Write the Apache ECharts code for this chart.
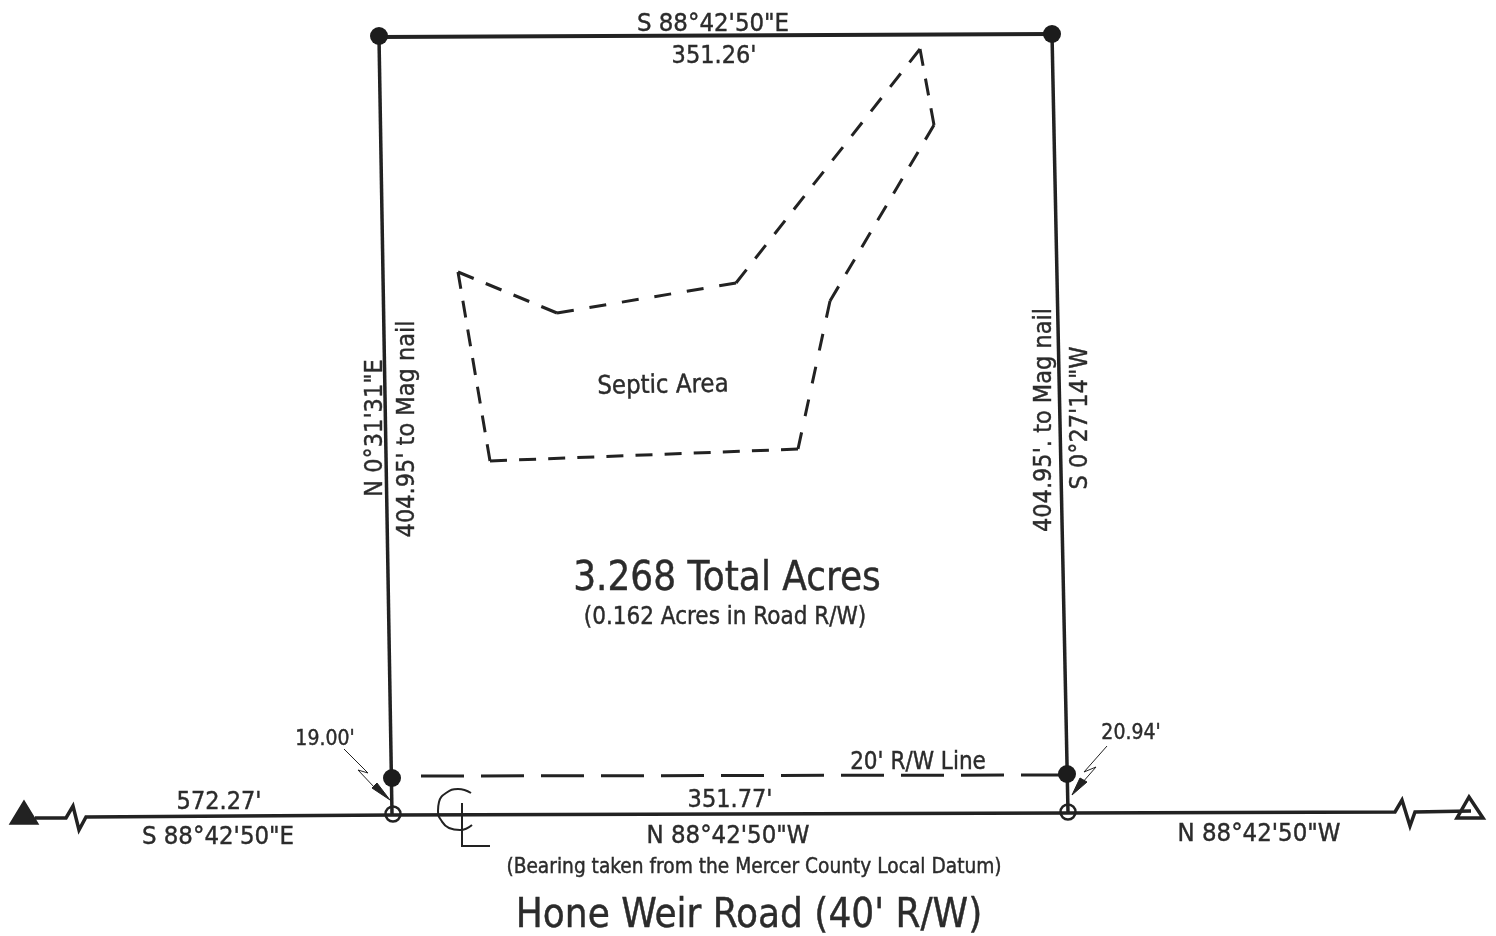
<!DOCTYPE html>
<html><head><meta charset="utf-8">
<style>html,body{margin:0;padding:0;background:#fff}#c{width:1496px;height:936px}</style>
<script src="https://cdn.jsdelivr.net/npm/echarts@6/dist/echarts.min.js"></script>
</head><body><div id="c"></div>
<script>
// Survey values, in sheet units
const boundaryTop = [[379,37],[1052,34]];
const boundaryLeft = [[379,37],[392,814]];
const boundaryRight = [[1052,34],[1068,812]];
const roadCenter = [[35,818],[66,818],[73,806],[79,830],[86,817],[393,815],[1068,813],[1395,812],[1402,800],[1410,826],[1415,812],[1471,811]];
const rightOfWay = [[421,776],[1062,775]];
const septicArea = [[458,272],[557,313],[736,283],[920,49],[934,125],[830,301],[798,449],[490,461],[458,272]];
const centerArc = [[471,793],[458,789],[446,793],[439,802],[438,811],[441,820],[449,828],[460,830],[472,825]];
const centerEll = [[462,803],[462,846],[490,846]];
const leaderLeft = [[344,749],[368,773],[358,770],[375,788]];
const leaderRight = [[1107,746],[1084,772],[1096,767],[1082,783]];
const arrowLeft = [[377,783],[372,788],[390,800]];
const arrowRight = [[1080,778],[1087,782],[1072,795]];
const triangleStart = [[24,801],[10,824],[38,824]];
const triangleEnd = [[1469,797],[1483,818],[1457,818]];
const pinsFound = [[379,36],[1052,34],[392,778],[1067,774]];
const pinsSet = [[393,814],[1068,812]];
const labelTexts = ["S 88°42'50\"E","351.26'","N 0°31'31\"E","404.95' to Mag nail","404.95'. to Mag nail","S 0°27'14\"W","Septic Area","3.268 Total Acres","(0.162 Acres in Road R/W)","19.00'","20.94'","20' R/W Line","572.27'","S 88°42'50\"E","351.77'","N 88°42'50\"W","N 88°42'50\"W","(Bearing taken from the Mercer County Local Datum)","Hone Weir Road (40' R/W)"];
const labelAnchors = [[713,24],[714,56],[375,428],[407,429],[1044,420],[1080,418],[663,386],[727,580],[725,618],[325,740],[1131,734],[918,763],[219,802],[218,837],[730,800],[728,836],[1259,834],[754,868],[749,917]];
const labelSizes = [25.5,25,25,25,25,25,25.5,40,24,21,21,24,25,25.5,25,25.5,25.5,20.7,40];
const labelTilts = [0,0,90,90,90,90,1,0,0,0,0,0,0,0,0,0,0,0,0];

const ink = '#222';
function line(points, width, dash, smooth){
  return {type:'line',data:points,showSymbol:false,silent:true,clip:false,smooth:!!smooth,
    lineStyle:{color:ink,width:width,type:dash||'solid',cap:'butt',join:'miter'},z:2};
}
// Each septic edge gets a dash pattern that begins and ends on a dash, so corners close as drawn
function septicEdges(points){
  const out=[];
  for(let i=0;i<points.length-1;i++){
    const a=points[i],b=points[i+1],len=Math.hypot(b[0]-a[0],b[1]-a[1]);
    const n=Math.max(1,Math.round((len-17)/30));
    out.push(line([a,b],3,[17,(len-17*(n+1))/n]));
  }
  return out;
}
function poly(points, fill, strokeW){
  return {type:'custom',coordinateSystem:'cartesian2d',silent:true,clip:false,z:3,data:points,
    encode:{x:0,y:1},
    renderItem(params,api){
      if(params.dataIndex!==0) return null;
      return {type:'polygon',shape:{points:points.map(p=>api.coord(p))},
        style:{fill:fill,stroke:ink,lineWidth:strokeW,lineJoin:'miter'}};
    }};
}
const font = '"DejaVu Sans Condensed","Liberation Sans Narrow","DejaVu Sans",sans-serif';
const chart = echarts.init(document.getElementById('c'),null,{renderer:'canvas'});
chart.setOption({
  animation:false,backgroundColor:'#fff',
  grid:{left:0,right:0,top:0,bottom:0,containLabel:false},
  xAxis:{type:'value',min:0,max:1496,show:false},
  yAxis:{type:'value',min:0,max:936,inverse:true,show:false},
  series:[
    line(boundaryTop,4),line(boundaryLeft,3.5),line(boundaryRight,3.5),
    line(roadCenter,3.5),
    line(rightOfWay,3,[43,17]),
    ...septicEdges(septicArea),
    line(centerArc,2,null,true),line(centerEll,2),
    line(leaderLeft,1),line(leaderRight,1),
    poly(arrowLeft,ink,1),poly(arrowRight,ink,1),
    poly(triangleStart,ink,1.5),poly(triangleEnd,'transparent',3.5),
    {type:'scatter',data:pinsFound,symbol:'circle',symbolSize:18,silent:true,itemStyle:{color:'#1c1c1c',opacity:1},z:4},
    {type:'scatter',data:pinsSet,symbol:'circle',symbolSize:15,silent:true,itemStyle:{color:'transparent',borderColor:ink,borderWidth:2.5,opacity:1},z:4},
    {type:'scatter',symbolSize:1,silent:true,itemStyle:{color:'transparent',opacity:1},z:5,
      data:labelTexts.map((t,i)=>({value:labelAnchors[i],
        label:{show:true,position:'inside',formatter:()=>t,rotate:labelTilts[i],align:'center',verticalAlign:'middle',
          fontFamily:font,fontSize:labelSizes[i],color:'#2b2b2b',textBorderColor:'#2b2b2b',textBorderWidth:0.4}}))}
  ]
});
</script></body></html>
